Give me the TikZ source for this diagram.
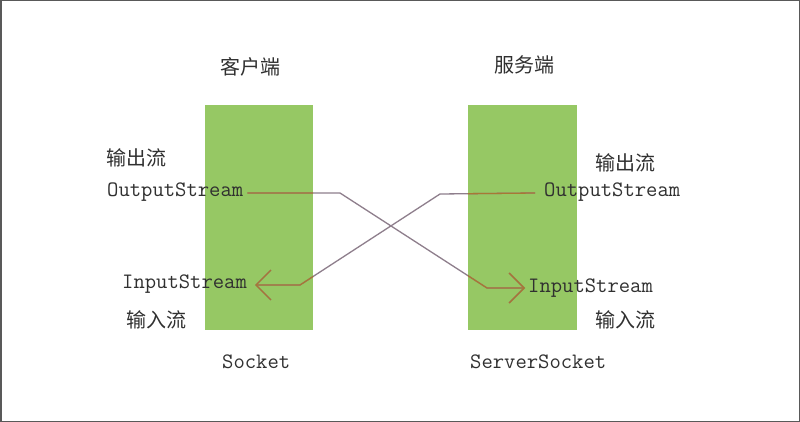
\documentclass[tikz,border=0pt]{standalone}
\usepackage{fontspec}
\usetikzlibrary{arrows.meta}
\newfontfamily\cjk{Noto Sans CJK SC}
\definecolor{boxgreen}{HTML}{96C864}
\definecolor{txt}{HTML}{303030}
\definecolor{lineout}{HTML}{8E7E8C}
\definecolor{linein}{HTML}{A87834}
\tikzset{
  cn/.style={font=\cjk\fontsize{20}{20}\selectfont, text=txt, inner sep=0pt},
  mono/.style={font=\ttfamily\fontsize{22}{22}\selectfont, text=txt, inner sep=0pt},
  panel/.style={fill=boxgreen, draw=none},
  link/.style={line width=1.3pt, line join=round},
  tip/.style={-{Straight Barb[length=15pt,width=30pt,line width=1.3pt]}}
}
\begin{document}
\begin{tikzpicture}[x=1pt,y=-1pt]
\useasboundingbox (0,0) rectangle (800,422);
\fill[white] (0,0) rectangle (800,422);
\draw[gray!70!black, line width=1.5pt] (0.75,0.75) rectangle (799.25,421.25);
% panels
\node[panel, minimum width=108pt, minimum height=225pt, inner sep=0pt] (lbox) at (259,217.5) {};
\node[panel, minimum width=109pt, minimum height=225pt, inner sep=0pt] (rbox) at (522.5,217.5) {};
% titles
\node[cn] (ctitle) at (250,67) {客户端};
\node[cn] (stitle) at (524,65) {服务端};
% left texts
\node[cn] (lout_cn) at (136,158) {输出流};
\node[mono, anchor=west] (lout) at (107,192) {OutputStream};
\node[mono, anchor=west] (lin) at (122,284) {InputStream};
\node[cn] (lin_cn) at (156,320) {输入流};
% right texts
\node[cn] (rout_cn) at (625,163) {输出流};
\node[mono, anchor=west] (rout) at (544,192) {OutputStream};
\node[mono, anchor=west] (rin) at (528,288) {InputStream};
\node[cn] (rin_cn) at (625,320) {输入流};
% bottom labels
\node[mono, anchor=west] (sock) at (222,362) {Socket};
\node[mono, anchor=west] (ssock) at (470,362) {ServerSocket};
% bend coordinates
\coordinate (a1) at (340,193);
\coordinate (a2) at (487,288);
\coordinate (b1) at (440,194);
\coordinate (b2) at (300,285);
\coordinate (lout_e) at ([xshift=4pt]lout.east |- 0,193);
\coordinate (rin_w) at ([xshift=-3pt]rin.west |- 0,288);
\coordinate (rout_w) at ([xshift=-9pt]rout.west |- 0,193);
\coordinate (lin_e) at ([xshift=8pt]lin.east |- 0,285);
% connectors
\draw[link, lineout, tip] (lout_e) -- (a1) -- (a2) -- (rin_w);
\draw[link, lineout, tip] (rout_w) -- (b1) -- (b2) -- (lin_e);
\begin{scope}
  \clip (lbox.south west) rectangle (lbox.north east) (rbox.south west) rectangle (rbox.north east);
  \draw[link, linein, tip] (lout_e) -- (a1) -- (a2) -- (rin_w);
  \draw[link, linein, tip] (rout_w) -- (b1) -- (b2) -- (lin_e);
\end{scope}
\end{tikzpicture}
\end{document}
